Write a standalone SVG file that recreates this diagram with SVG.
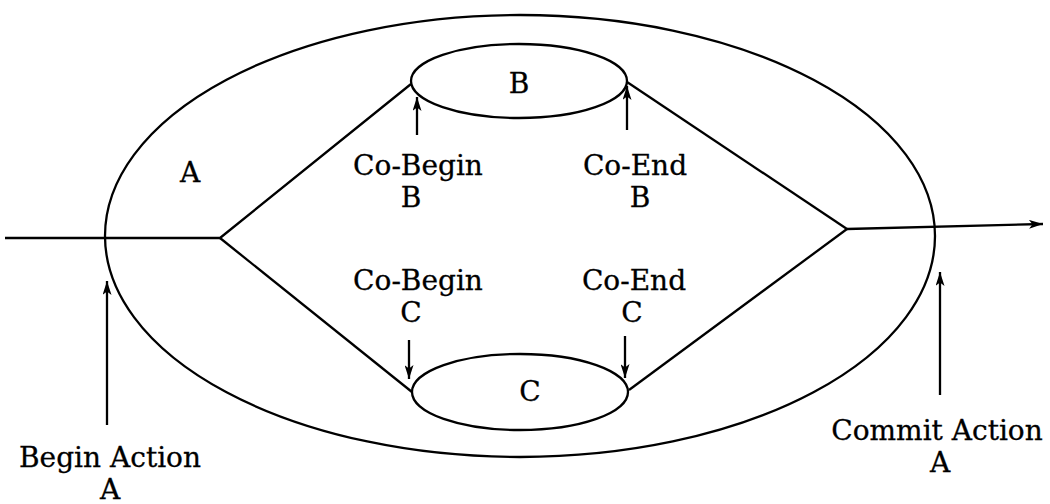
<svg xmlns="http://www.w3.org/2000/svg" width="1050" height="504" viewBox="0 0 1050 504">
<style>
.s{fill:none;stroke:#000;stroke-width:2.3}
.t{font-family:"DejaVu Serif","Liberation Serif",serif;font-size:28px;fill:#000;text-anchor:middle;stroke:#000;stroke-width:0.3}
</style>
<defs>
<marker id="ah" viewBox="0 0 14 9" refX="14" refY="4.5" markerWidth="14" markerHeight="9" markerUnits="userSpaceOnUse" orient="auto">
<path d="M0,0 L14,4.5 L0,9 L3.5,4.5 Z" fill="#000"/>
</marker>
</defs>
<rect width="1050" height="504" fill="#fff"/>
<g id="nodeA">
<ellipse class="s" cx="520" cy="236" rx="415" ry="221"/>
<text class="t" x="190" y="182">A</text>
</g>
<g id="nodeB">
<ellipse class="s" cx="519" cy="81" rx="108" ry="37"/>
<text class="t" x="519" y="93">B</text>
</g>
<g id="nodeC">
<ellipse class="s" cx="520" cy="392" rx="108" ry="38"/>
<text class="t" x="530" y="401">C</text>
</g>
<g id="labels">
<text class="t" x="418" y="175">Co-Begin</text>
<text class="t" x="411" y="207">B</text>
<text class="t" x="635" y="175">Co-End</text>
<text class="t" x="640" y="207">B</text>
<text class="t" x="418" y="290">Co-Begin</text>
<text class="t" x="411" y="322">C</text>
<text class="t" x="634" y="290">Co-End</text>
<text class="t" x="632" y="322">C</text>
<text class="t" x="110" y="467">Begin Action</text>
<text class="t" x="110" y="499">A</text>
<text class="t" x="937" y="440">Commit Action</text>
<text class="t" x="940" y="472">A</text>
</g>
<g id="connectors">
<polyline class="s" points="5,238 220,238 411,84"/>
<line class="s" x1="220" y1="238" x2="412" y2="392"/>
<line class="s" x1="627" y1="82" x2="847" y2="229"/>
<line class="s" x1="629" y1="390" x2="847" y2="229"/>
<line class="s" x1="847" y1="229" x2="1043" y2="224" marker-end="url(#ah)"/>
<line class="s" x1="417" y1="135" x2="417" y2="97" marker-end="url(#ah)"/>
<line class="s" x1="627" y1="130" x2="627" y2="86" marker-end="url(#ah)"/>
<line class="s" x1="409" y1="340" x2="409" y2="379" marker-end="url(#ah)"/>
<line class="s" x1="625" y1="336" x2="625" y2="378" marker-end="url(#ah)"/>
<line class="s" x1="107" y1="425" x2="107" y2="281" marker-end="url(#ah)"/>
<line class="s" x1="940" y1="395" x2="940" y2="272" marker-end="url(#ah)"/>
</g>
</svg>
